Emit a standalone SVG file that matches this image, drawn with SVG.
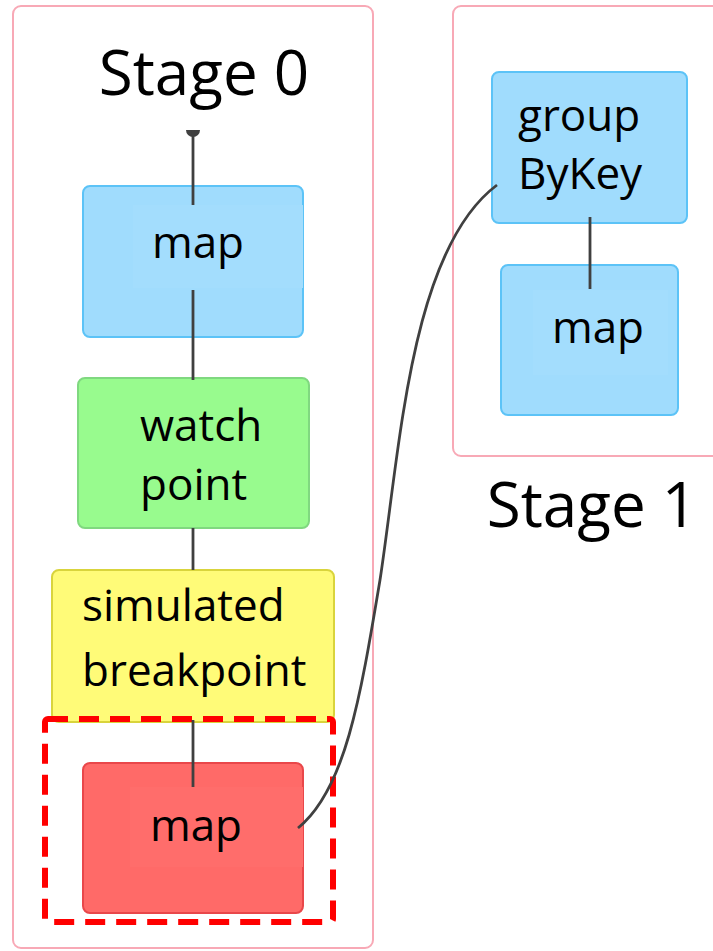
<svg xmlns="http://www.w3.org/2000/svg" width="713" height="951" viewBox="0 0 713 951">
<style>
.stage{fill:#fff;stroke:#f8a9b6;stroke-width:2}
.title{font-family:"Open Sans","Noto Sans",sans-serif;font-size:62px;fill:#000}
.lbl{font-family:"Open Sans","Noto Sans",sans-serif;font-size:44px;fill:#000}
.blue{fill:#a0dcfd;stroke:#5cc3f7;stroke-width:2}
.green{fill:#98fb8e;stroke:#80d880;stroke-width:2}
.yellow{fill:#fffb78;stroke:#d9d43c;stroke-width:2}
.red{fill:#ff6a68;stroke:#e9474a;stroke-width:2}
.edge{fill:none;stroke:#404040;stroke-width:2.8}
</style>
<rect width="713" height="951" fill="#fff"/>
<g id="stage0">
<rect class="stage" x="13" y="6" width="360" height="942" rx="8"/>
<text class="title" x="204" y="95" text-anchor="middle">Stage 0</text>
</g>
<g id="stage1">
<rect class="stage" x="453" y="6" width="280" height="450" rx="8"/>
<text class="title" x="592" y="527" text-anchor="middle">Stage 1</text>
</g>
<g id="map0">
<rect class="blue" x="83" y="186" width="220" height="151" rx="7"/>
<rect x="133" y="205" width="170" height="83" fill="#a3ddfd"/>
<text class="lbl" x="198" y="258" text-anchor="middle">map</text>
</g>
<g id="watchpoint">
<rect class="green" x="78" y="378" width="231" height="150" rx="7"/>
<text class="lbl" x="140" y="441">watch</text>
<text class="lbl" x="140" y="500">point</text>
</g>
<g id="breakpoint">
<rect class="yellow" x="52" y="570" width="282" height="152" rx="7"/>
<text class="lbl" x="82" y="621">simulated</text>
<text class="lbl" x="82" y="686">breakpoint</text>
</g>
<g id="highlight">
<rect x="45" y="719" width="288" height="203" rx="3" fill="none" stroke="#ff0000" stroke-width="6" stroke-dasharray="20 11"/>
</g>
<g id="map1">
<rect class="red" x="83" y="763" width="220" height="150" rx="7"/>
<rect x="130" y="787" width="173" height="80" fill="#ff6d6b"/>
<text class="lbl" x="196" y="841" text-anchor="middle">map</text>
</g>
<g id="groupByKey">
<rect class="blue" x="492" y="72" width="195" height="151" rx="7"/>
<text class="lbl" x="518" y="131">group</text>
<text class="lbl" x="518" y="189">ByKey</text>
</g>
<g id="map2">
<rect class="blue" x="501" y="265" width="177" height="150" rx="7"/>
<rect x="533" y="290" width="135" height="85" fill="#a3ddfd"/>
<text class="lbl" x="598" y="343" text-anchor="middle">map</text>
</g>
<g id="connectors">
<path d="M186,130 A7,7 0 0 0 200,130 Z" fill="#404040"/>
<path class="edge" d="M193,130 V205"/>
<path class="edge" d="M193,290 V380"/>
<path class="edge" d="M193,528 V570"/>
<path class="edge" d="M193,720 V787"/>
<path class="edge" d="M590,217 V289"/>
<path class="edge" d="M298,828 C345,790 360,700 380,580 C400,450 410,250 497,185"/>
</g>
</svg>
